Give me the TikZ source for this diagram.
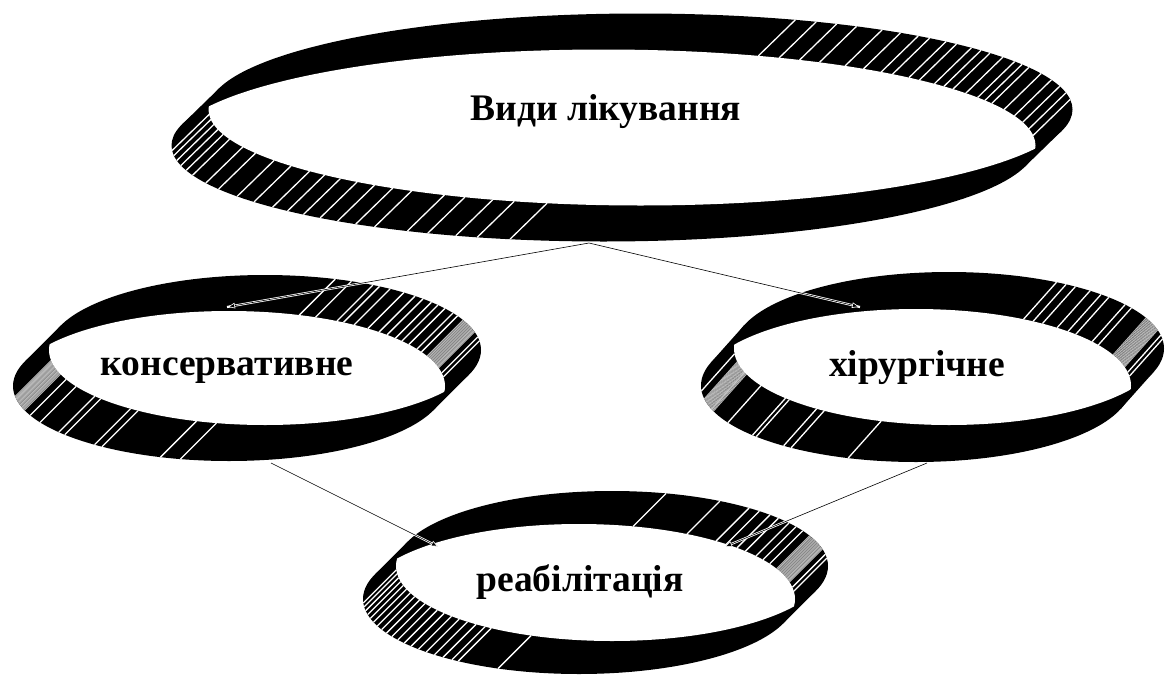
\documentclass[tikz,border=0pt]{standalone}
\usepackage{fontspec}
\setmainfont{Liberation Serif}
\usetikzlibrary{arrows.meta}

% current ring: upper rim centre (\rcx,\rcy), radii \ra,\rb; lower rim shifted by (\rdx,\rdy)
\newcommand\ringset[6]{\def\rcx{#1}\def\rcy{#2}\def\ra{#3}\def\rb{#4}\def\rdx{#5}\def\rdy{#6}}
% silhouette of the band: both rims plus the two side generators
\newcommand\ringhull{%
  \pgfmathsetmacro\tz{atan2(\rb*\rdx,\ra*\rdy)}%
  \fill[ringfill] (\rcx,\rcy) ellipse [x radius=\ra pt, y radius=\rb pt];
  \fill[ringfill] ({\rcx+\rdx},{\rcy+\rdy}) ellipse [x radius=\ra pt, y radius=\rb pt];
  \fill[ringfill] ({\rcx+\ra*cos(\tz)},{\rcy-\rb*sin(\tz)})
    -- ({\rcx+\ra*cos(\tz+180)},{\rcy-\rb*sin(\tz+180)})
    -- ({\rcx+\rdx+\ra*cos(\tz+180)},{\rcy+\rdy-\rb*sin(\tz+180)})
    -- ({\rcx+\rdx+\ra*cos(\tz)},{\rcy+\rdy-\rb*sin(\tz)}) -- cycle;
}
% generator lines of the band at the listed angles
\newcommand\ringlines[2]{%
  \foreach \t in {#2}
    \draw[#1] ({\rcx+\ra*cos(\t)},{\rcy-\rb*sin(\t)})
      -- ({\rcx+\rdx+\ra*cos(\t)},{\rcy+\rdy-\rb*sin(\t)});
}
% see-through opening: inside both rims
\newcommand\ringhole{%
  \begin{scope}
    \clip (\rcx,\rcy) ellipse [x radius=\ra pt, y radius=\rb pt];
    \fill[white] ({\rcx+\rdx},{\rcy+\rdy}) ellipse [x radius=\ra pt, y radius=\rb pt];
  \end{scope}
}

\tikzset{
  ringfill/.style={black},
  stripe/.style={white, line width=1.3pt},
  hatch/.style={white!72!black, line width=0.9pt},
  caption/.style={font=\bfseries\fontsize{37.5}{42}\selectfont, inner sep=0pt, anchor=base},
  halo/.style={white, line width=2.2pt},
  link/.style={black, line width=0.6pt, -{Latex[length=8pt,width=6pt,color=white,fill=black]}},
}

\begin{document}
\begin{tikzpicture}[x=1pt,y=-1pt]
\useasboundingbox (0,0) rectangle (1165,675);
\fill[white] (0,0) rectangle (1165,675);

% main ring
\ringset{640.5}{109.5}{432}{96}{-37}{36}
\ringhull
\ringlines{stripe}{69,66,63,60,56,53,50,48,45,43,40,38,36,33,30,28,26,22,18,14,10,6}
\ringlines{stripe}{183,186,189,192,195,198,203,207,212,216,220,223,226,229,232,235,238,243,246,250,253,257.5}
\ringhole

% left ring
\ringset{265}{350}{216}{75}{-36}{36}
\ringhull
\ringlines{stripe}{71,66.4,60,58,54.6,50,46,43,39.6,36.8,33.6,29.5,27,10,7}
\ringlines{hatch}{14,14.6,...,24}
\ringlines{stripe}{203,209,218,220.5,231.5,234,251.5,257}
\ringlines{hatch}{188,188.6,...,199}
\ringhole

% right ring
\ringset{949}{348.5}{215}{76.5}{-33}{37}
\ringhull
\ringlines{stripe}{60,57,54,49,45,42,35,32,10,7}
\ringlines{hatch}{14,14.6,...,24}
\ringlines{stripe}{184,198,209,220.5,222,232,234.5,251.6}
\ringlines{hatch}{190,190.6,...,200}
\ringhole

% bottom ring
\ringset{612}{566}{216}{75}{-33}{33}
\ringhull
\ringlines{stripe}{75.5,60,50.6,47,43,39.6,35,31.6,28,9,6}
\ringlines{hatch}{13,13.6,...,24}
\ringlines{stripe}{183,186,189,192,195,198,201,204,207,210,213,216,219,222,225,228,231,234,236,248}
\ringhole

% captions
\node[caption] (kinds) at (606,120) {Види лікування};
\node[caption] (cons)  at (227,375) {консервативне};
\node[caption] (surg)  at (917,376) {хірургічне};
\node[caption] (rehab) at (580,591) {реабілітація};

% connector ends
\coordinate (kinds-out) at (589,243);
\coordinate (cons-in)   at (227,307);
\coordinate (surg-in)   at (860,307);
\coordinate (cons-out)  at (271,463);
\coordinate (surg-out)  at (927,463);
\coordinate (rehab-l)   at (439,547);
\coordinate (rehab-r)   at (724,547);

\foreach \a/\b in {kinds-out/cons-in, kinds-out/surg-in, cons-out/rehab-l, surg-out/rehab-r}{
  \draw[halo] (\a) -- (\b);
  \draw[link] (\a) -- (\b);
}
\end{tikzpicture}
\end{document}
